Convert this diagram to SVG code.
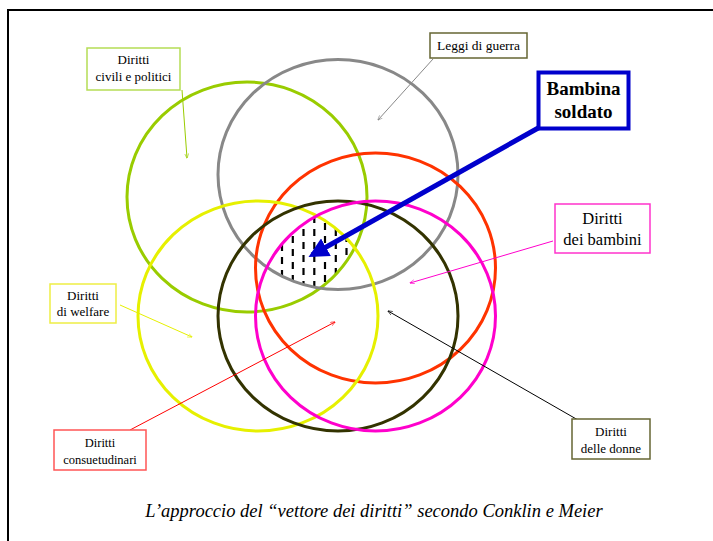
<svg xmlns="http://www.w3.org/2000/svg" width="713" height="541" viewBox="0 0 713 541">
<style>
.c{fill:none;stroke-width:3}
.box{fill:#fff;stroke-width:1.5}
.t{font-family:"Liberation Serif","Times New Roman",serif;font-size:13px;fill:#000;text-anchor:middle}
.ld{fill:none;stroke-width:1}
</style>
<defs>
<marker id="ah" viewBox="0 0 10 10" refX="9" refY="5" markerWidth="5" markerHeight="5" orient="auto" markerUnits="userSpaceOnUse"><path d="M0,1 L10,5 L0,9" fill="none" stroke="context-stroke" stroke-width="1.2"/></marker>
<marker id="bh" viewBox="0 0 10 10" refX="8" refY="5" markerWidth="4" markerHeight="4" orient="auto"><path d="M0,0 L10,5 L0,10 z" fill="#0000cc"/></marker>
<clipPath id="cGreen"><ellipse cx="247" cy="197" rx="120" ry="115"/></clipPath>
<clipPath id="cGray"><ellipse cx="338" cy="174.5" rx="120" ry="115"/></clipPath>
<clipPath id="cYellow"><ellipse cx="258" cy="316" rx="120" ry="115"/></clipPath>
<clipPath id="cMag"><ellipse cx="375.5" cy="316" rx="120" ry="115"/></clipPath>
</defs>
<rect width="713" height="541" fill="#fff"/>
<path d="M8,541 V10 H713" fill="none" stroke="#000" stroke-width="2"/>

<g id="hatch" clip-path="url(#cGreen)"><g clip-path="url(#cGray)"><g clip-path="url(#cYellow)"><g clip-path="url(#cMag)">
<g stroke="#000" stroke-width="2.2" stroke-dasharray="7 6">
<line x1="282" y1="205" x2="282" y2="295"/>
<line x1="292.8" y1="210" x2="292.8" y2="295"/>
<line x1="303.5" y1="216" x2="303.5" y2="295"/>
<line x1="314.3" y1="216" x2="314.3" y2="295"/>
<line x1="325" y1="210" x2="325" y2="295"/>
<line x1="335.8" y1="216" x2="335.8" y2="295"/>
<line x1="346.5" y1="222" x2="346.5" y2="295"/>
</g></g></g></g></g>

<g id="circles">
<ellipse class="c" cx="247" cy="197" rx="120" ry="115" stroke="#99cc00"/>
<ellipse class="c" cx="338" cy="174.5" rx="120" ry="115" stroke="#888888"/>
<ellipse class="c" cx="375.5" cy="268" rx="120" ry="115" stroke="#ff3300"/>
<ellipse class="c" cx="258" cy="316" rx="120" ry="115" stroke="#e6f000"/>
<ellipse class="c" cx="338" cy="316" rx="120" ry="115" stroke="#333300"/>
<ellipse class="c" cx="375.5" cy="316" rx="120" ry="115" stroke="#ff00cc"/>
</g>

<g id="connectors">
<line class="ld" x1="182" y1="90" x2="187" y2="158" stroke="#99cc00" marker-end="url(#ah)"/>
<line class="ld" x1="433" y1="59" x2="378" y2="120" stroke="#888888" marker-end="url(#ah)"/>
<line class="ld" x1="553" y1="241" x2="410" y2="283" stroke="#ff00cc" marker-end="url(#ah)"/>
<line class="ld" x1="120" y1="305" x2="192" y2="337" stroke="#e6f000" marker-end="url(#ah)"/>
<line class="ld" x1="130" y1="430" x2="335" y2="322" stroke="#ff0000" marker-end="url(#ah)"/>
<line class="ld" x1="578" y1="420" x2="388" y2="311" stroke="#000" marker-end="url(#ah)"/>
<line x1="540" y1="127" x2="312" y2="255" stroke="#0000cc" stroke-width="5" marker-end="url(#bh)"/>
</g>

<g id="civili">
<rect class="box" x="87" y="48" width="93" height="42" stroke="#b5dd55"/>
<text class="t" x="133.5" y="64">Diritti</text>
<text class="t" x="133.5" y="81">civili e politici</text>
</g>
<g id="leggi">
<rect class="box" x="430" y="33" width="97" height="25" stroke="#666633"/>
<text class="t" x="478.5" y="50" style="font-size:13.5px">Leggi di guerra</text>
</g>
<g id="bambina">
<rect x="538.5" y="72.5" width="90" height="56" fill="#fff" stroke="#0000cc" stroke-width="4"/>
<text class="t" x="583.5" y="95" style="font-size:19px;font-weight:bold">Bambina</text>
<text class="t" x="583.5" y="118" style="font-size:19px;font-weight:bold">soldato</text>
</g>
<g id="bambini">
<rect class="box" x="555" y="204" width="95" height="49" stroke="#ff33cc"/>
<text class="t" x="602.5" y="224" style="font-size:16.5px">Diritti</text>
<text class="t" x="602.5" y="245" style="font-size:16.5px">dei bambini</text>
</g>
<g id="welfare">
<rect class="box" x="50" y="284" width="66" height="39" stroke="#eeee44"/>
<text class="t" x="83" y="300">Diritti</text>
<text class="t" x="83" y="316">di welfare</text>
</g>
<g id="consuetudinari">
<rect class="box" x="54" y="430" width="92" height="40" stroke="#ff5555"/>
<text class="t" x="100" y="447" style="font-size:12.5px">Diritti</text>
<text class="t" x="100" y="464" style="font-size:12.5px">consuetudinari</text>
</g>
<g id="donne">
<rect class="box" x="572" y="419" width="78" height="40" stroke="#666633"/>
<text class="t" x="611" y="436">Diritti</text>
<text class="t" x="611" y="453">delle donne</text>
</g>
<text class="t" x="374" y="517" style="font-size:18.5px;font-style:italic">L’approccio del “vettore dei diritti” secondo Conklin e Meier</text>
</svg>
